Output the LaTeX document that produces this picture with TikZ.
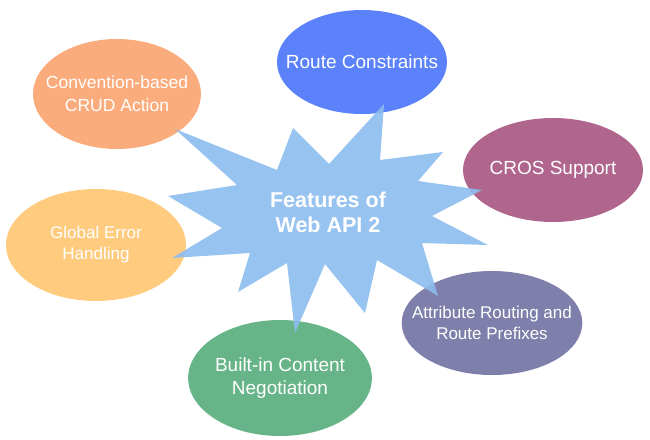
\documentclass[tikz,border=0pt]{standalone}
\usepackage{fontspec}
\setmainfont{Liberation Sans}
\usetikzlibrary{shapes.geometric}
\definecolor{crudOrange}{HTML}{FBAC7C}
\definecolor{routeBlue}{HTML}{5B82FA}
\definecolor{crosPlum}{HTML}{B0668C}
\definecolor{errorYellow}{HTML}{FFCB7E}
\definecolor{attrPurple}{HTML}{7F7FAB}
\definecolor{negoGreen}{HTML}{66B487}
\definecolor{hubBlue}{HTML}{8CBCEE}
\tikzset{feature/.style={ellipse,text=white,align=center,inner sep=0pt,
    font=\fontsize{19}{23}\selectfont}}
\tikzset{hubShape/.style={fill=hubBlue,fill opacity=.9}}
\begin{document}
\begin{tikzpicture}[x=1pt,y=-1pt]
\useasboundingbox (0,0) rectangle (650,439);
\node[feature,fill=crudOrange,minimum width=168pt,minimum height=110pt,inner xsep=-19pt,font=\fontsize{17.5}{23}\selectfont] (crud) at (117,94) {Convention-based\\CRUD Action};
\node[feature,fill=routeBlue,minimum width=170pt,minimum height=104pt,inner xsep=-18pt] (route) at (362,62) {Route Constraints};
\node[feature,fill=crosPlum,minimum width=180pt,minimum height=104pt] (cros) at (553,170) {CROS Support};
\node[feature,fill=errorYellow,minimum width=180pt,minimum height=112pt,font=\fontsize{17}{21}\selectfont] (error) at (96,245) {Global Error\\Handling};
\node[feature,fill=attrPurple,minimum width=180pt,minimum height=104pt,inner xsep=-16pt,font=\fontsize{17}{21}\selectfont] (attr) at (492,323) {Attribute Routing and\\Route Prefixes};
\node[feature,fill=negoGreen,minimum width=182pt,minimum height=116pt] (nego) at (280,378) {Built-in Content\\Negotiation};
% the burst in the middle
\fill[hubShape] (175,129) -- (277,170) -- (293,128) -- (329,164) -- (384,104)
  -- (380,160) -- (443,152) -- (418,181) -- (482,190) -- (432,216)
  -- (488,245) -- (422,243) -- (438,296) -- (377,260) -- (365,313)
  -- (325,264) -- (295,333) -- (287,263) -- (238,292) -- (250,253)
  -- (172,258) -- (222,228) -- (168,196) -- (237,185) -- cycle;
\node[text=white,align=center,font=\fontsize{21.5}{25}\selectfont\bfseries] (hub) at (328,212) {Features of\\Web API 2};
\end{tikzpicture}
\end{document}
